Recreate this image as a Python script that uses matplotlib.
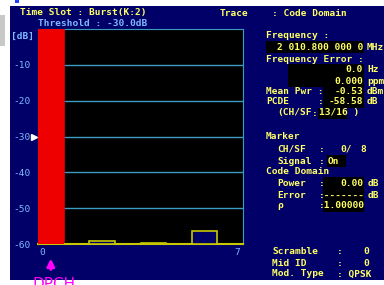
import matplotlib
matplotlib.use('Agg')
import matplotlib.pyplot as plt
from matplotlib.patches import Rectangle

# code domain power per code (dB), SF = 8
codes = [0, 1, 2, 3, 4, 5, 6, 7]
power = [0.0, -60.0, -59.2, -60.0, -59.7, -60.0, -56.4, -60.0]
y_ticks = [-10, -20, -30, -40, -50, -60]
x_labels = ['0', '7']
threshold = -30.0

NAVY = '#000068'
YEL = '#ffff66'
CYAN = '#3a9cc0'
LBLUE = '#7fb8ff'
MONO = 'DejaVu Sans Mono'
FS = 6.8

W, H = 384, 285
fig = plt.figure(figsize=(W / 100, H / 100), dpi=100)
fig.patch.set_facecolor('white')


def fx(x):
    return x / W


def fy(y):
    return 1 - y / H


def rect(x0, y0, x1, y1, color, z=-5):
    fig.patches.append(Rectangle((fx(x0), fy(y1)), fx(x1) - fx(x0), fy(y0) - fy(y1),
                                 transform=fig.transFigure, facecolor=color,
                                 edgecolor='none', zorder=z))


def txt(x, y, s, color=YEL, ha='left', size=FS, **kw):
    fig.text(fx(x), fy(y), s, color=color, ha=ha, va='center', family=MONO,
             weight='bold', size=size, zorder=5, **kw)


# instrument screen background
rect(10, 6, 384, 280, NAVY, z=-10)
rect(0, 15, 5, 46, '#c8c8c8')
rect(15, 0, 19, 3, '#2040ff')

ax = fig.add_axes([fx(38), fy(244), fx(243) - fx(38), fy(29) - fy(244)])
ax.set_facecolor('black')
ax.set_xlim(0, 8)
ax.set_ylim(-60, 0)

colors = ['#ee0000'] + [NAVY] * 7
edges = ['#ee0000'] + ['#c8c800'] * 7
heights = [p + 60 for p in power]
ax.bar(codes, heights, bottom=-60, width=1, align='edge', color=colors,
       edgecolor=edges, linewidth=1.2, zorder=3)

ax.set_axisbelow(True)
ax.set_yticks(y_ticks)
ax.set_yticklabels([str(t) for t in y_ticks], family=MONO, size=FS, color=LBLUE)
ax.set_xticks([])
ax.tick_params(axis='y', length=0, pad=5)
ax.grid(axis='y', color=CYAN, linewidth=1)
for s in ['top', 'right', 'left']:
    ax.spines[s].set_color(CYAN)
ax.spines['bottom'].set_color('#c8c800')
ax.spines['bottom'].set_linewidth(1.5)

# threshold marker
ax.plot([-0.14], [threshold], marker='>', color='white', ms=4, clip_on=False, zorder=5)

ax.text(0.05, -62.5, x_labels[0], color=LBLUE, family=MONO, size=FS, va='center', ha='left')
ax.text(7.9, -62.5, x_labels[1], color=LBLUE, family=MONO, size=FS, va='center', ha='right')

# DPCH arrow
ax.annotate('', xy=(0.5, -63.3), xytext=(0.5, -67.9), xycoords='data',
            arrowprops=dict(arrowstyle='-|>', color='#ff00ff', lw=2, mutation_scale=11),
            annotation_clip=False)
fig.text(fx(32), fy(277), 'DPCH', color='#ff00ff', family='DejaVu Sans', size=11,
         va='top', ha='left')

# header
txt(20, 13, 'Time Slot : Burst(K:2)')
txt(38, 24, 'Threshold : %.1fdB' % threshold, color=LBLUE)
txt(11, 36, '[dB]', color=LBLUE)
txt(220, 13, 'Trace')
txt(272, 13, ': Code Domain')

# measurement panel
rect(266, 41, 364, 53, 'black')
rect(288, 64, 364, 87, 'black')
rect(323, 86, 364, 97, 'black')
rect(323, 97, 364, 108, 'black')
rect(318, 108, 347, 119, 'black')
rect(327, 155, 346, 167, 'black')
rect(323, 177, 364, 189, 'black')
rect(323, 189, 364, 201, 'black')
rect(323, 200, 364, 212, 'black')

txt(266, 36, 'Frequency :')
txt(363, 47, '2 010.800 000 0', ha='right')
txt(367, 47, 'MHz')
txt(266, 59, 'Frequency Error :')
txt(363, 70, '0.0', ha='right')
txt(367, 70, 'Hz')
txt(363, 81, '0.000', ha='right')
txt(367, 81, 'ppm')
txt(266, 91, 'Mean Pwr :')
txt(363, 91, '-0.53', ha='right')
txt(367, 91, 'dBm')
txt(266, 102, 'PCDE')
txt(318, 102, ':')
txt(363, 102, '-58.58', ha='right')
txt(367, 102, 'dB')
txt(277, 113, '(CH/SF')
txt(312, 113, ':')
txt(319, 113, '13/16 )')

txt(266, 137, 'Marker')
txt(277, 149, 'CH/SF')
txt(319, 149, ':')
txt(340, 149, '0/')
txt(366, 149, '8', ha='right')
txt(277, 161, 'Signal')
txt(319, 161, ':')
txt(328, 161, 'On')
txt(266, 172, 'Code Domain')
txt(277, 183, 'Power')
txt(319, 183, ':')
txt(363, 183, '%.2f' % power[0], ha='right')
txt(368, 183, 'dB')
txt(277, 195, 'Error')
txt(319, 195, ':-------')
txt(368, 195, 'dB')
txt(277, 206, '\u03c1')
txt(319, 206, ':1.00000')

txt(272, 252, 'Scramble')
txt(337, 252, ':')
txt(369, 252, '0', ha='right')
txt(272, 263, 'Mid ID')
txt(337, 263, ':')
txt(369, 263, '0', ha='right')
txt(272, 274, 'Mod. Type')
txt(337, 274, ': QPSK')

fig.savefig('out.png', dpi=100, facecolor='white')
